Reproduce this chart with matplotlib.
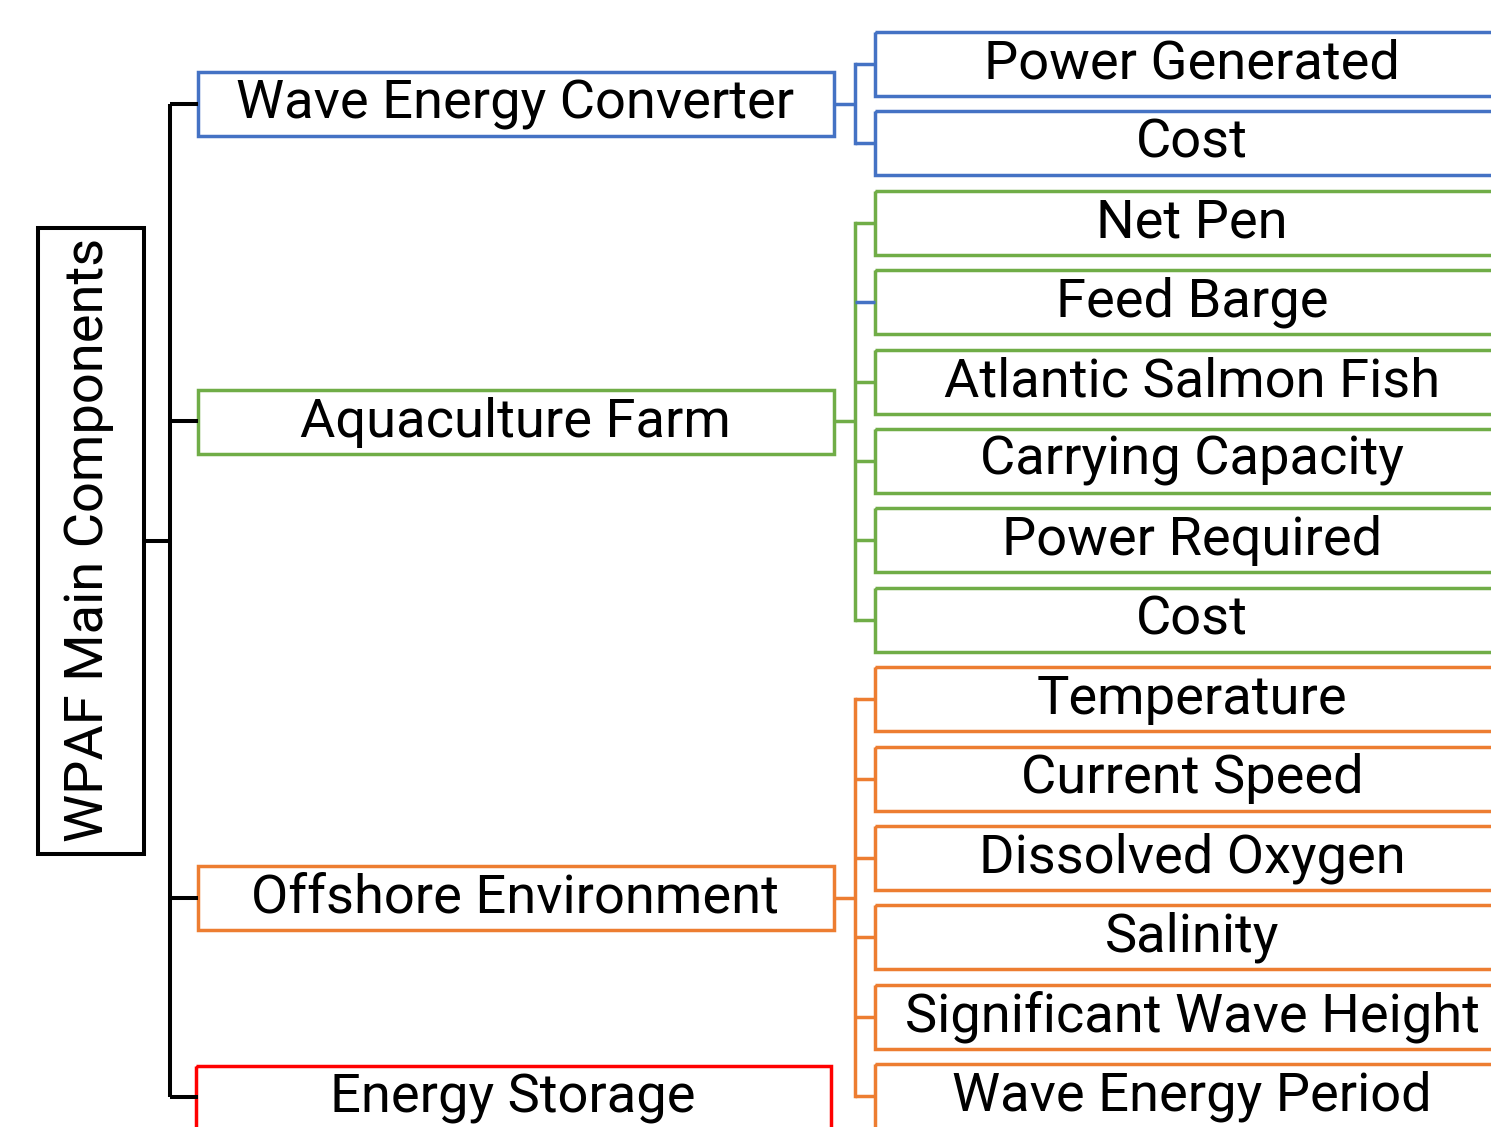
import matplotlib
matplotlib.use("Agg")
import matplotlib.pyplot as plt
from matplotlib.patches import Rectangle

plt.rcParams['font.family'] = ['Roboto', 'DejaVu Sans']

root_label = "WPAF Main Components"
groups = ["Wave Energy Converter", "Aquaculture Farm", "Offshore Environment", "Energy Storage"]
group_colors = ["#4472C4", "#70AD47", "#ED7D31", "#FF0000"]
children = [
    ["Power Generated", "Cost"],
    ["Net Pen", "Feed Barge", "Atlantic Salmon Fish", "Carrying Capacity", "Power Required", "Cost"],
    ["Temperature", "Current Speed", "Dissolved Oxygen", "Salinity", "Significant Wave Height", "Wave Energy Period"],
    [],
]
# tick colour quirk: Feed Barge connector drawn in blue in the original
tick_color_override = {(1, 1): "#4472C4"}

W, H = 1491, 1127
fig = plt.figure(figsize=(W / 100, H / 100), dpi=100)
ax = fig.add_axes([0, 0, 1, 1])
ax.set_xlim(0, W)
ax.set_ylim(H, 0)
ax.axis('off')

FS = 39.1
lw_c = 2.5
lw_k = 2.9

# root box
ax.add_patch(Rectangle((38, 228), 106, 626, fill=False, ec='black', lw=lw_k))
ax.text(89, 540, root_label, rotation=90, ha='center', va='center', fontsize=FS, color='black')

group_y = [104, 421, 898, 1097]
group_box_y = [72, 390, 866, 1066]
# root connectors
ax.plot([144, 170], [541, 541], color='black', lw=lw_k, solid_capstyle='butt')
ax.plot([170, 170], [group_y[0], group_y[-1]], color='black', lw=lw_k, solid_capstyle='butt')
for gy in group_y:
    ax.plot([170, 198], [gy, gy], color='black', lw=lw_k, solid_capstyle='butt')

# child layout
child_top0 = 32
child_step = 79.4
child_h = 64
k = 0
child_rows = []
for g, ch in enumerate(children):
    rows = []
    for c in ch:
        rows.append(child_top0 + k * child_step)
        k += 1
    child_rows.append(rows)

for g, name in enumerate(groups):
    col = group_colors[g]
    x0 = 198 if g < 3 else 196
    x1 = 834 if g < 3 else 831
    ax.add_patch(Rectangle((x0, group_box_y[g]), x1 - x0, 64, fill=False, ec=col, lw=lw_c))
    ax.text((x0 + x1) / 2 - 1, group_box_y[g] + 32, name, ha='center', va='center', fontsize=FS, color='black')
    rows = child_rows[g]
    if not rows:
        continue
    centers = [r + child_h / 2 for r in rows]
    vx = 855
    ax.plot([x1, vx], [group_y[g], group_y[g]], color=col, lw=lw_c, solid_capstyle='butt')
    ax.plot([vx, vx], [centers[0], centers[-1]], color=col, lw=lw_c, solid_capstyle='projecting')
    for i, (r, c) in enumerate(zip(rows, children[g])):
        tc = tick_color_override.get((g, i), col)
        ax.plot([vx, 875], [centers[i], centers[i]], color=tc, lw=lw_c, solid_capstyle='butt')
        ax.add_patch(Rectangle((875, r), 700, child_h, fill=False, ec=col, lw=lw_c))
        ax.text(1192, centers[i], c, ha='center', va='center', fontsize=FS, color='black')

fig.savefig("out.png", dpi=100)
